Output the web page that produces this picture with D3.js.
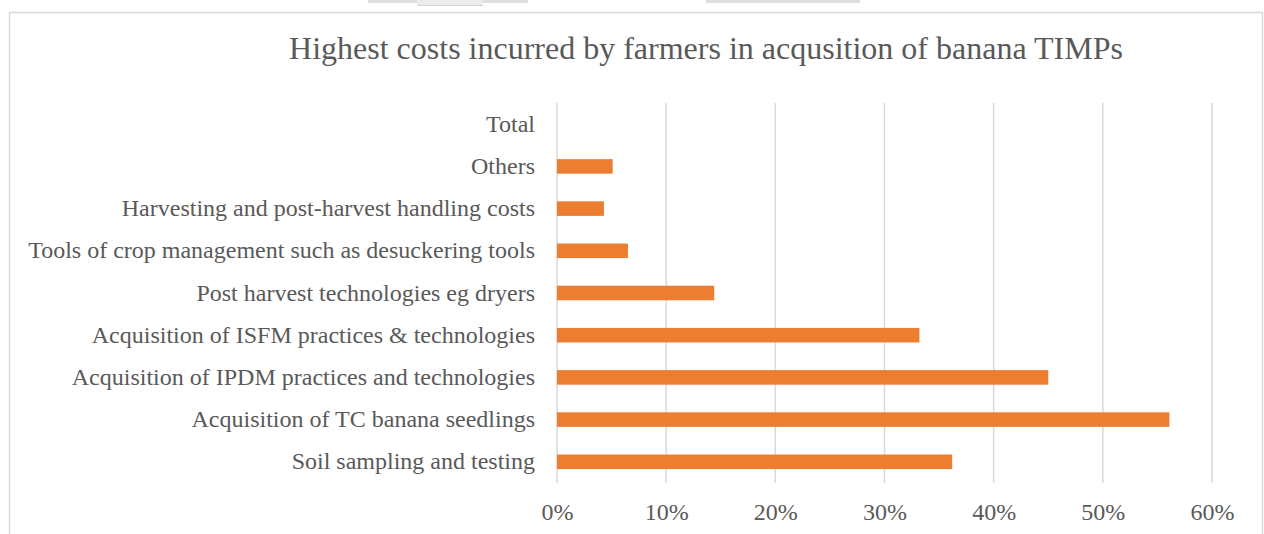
<!DOCTYPE html>
<html>
<head>
<meta charset="utf-8">
<script src="https://cdn.jsdelivr.net/npm/d3@7"></script>
<style>
  html, body { margin: 0; padding: 0; background: #fff; }
  svg { display: block; }
</style>
</head>
<body>
<svg id="chart" width="1264" height="534"></svg>
<script>
// Cost categories, listed top to bottom
const categories = [
  "Total",
  "Others",
  "Harvesting and post-harvest handling costs",
  "Tools of crop management such as desuckering tools",
  "Post harvest technologies eg dryers",
  "Acquisition of ISFM practices & technologies",
  "Acquisition of IPDM practices and technologies",
  "Acquisition of TC banana seedlings",
  "Soil sampling and testing"
];
// Share of farmers (%) for each category; Total has no bar
const shares = [null, 5.1, 4.3, 6.5, 14.4, 33.2, 45.0, 56.1, 36.2];
const tickValues = [0, 10, 20, 30, 40, 50, 60];
const titleText = "Highest costs incurred by farmers in acqusition of banana TIMPs";

const svg = d3.select("#chart");
const W = 1264, H = 534;
const font = "'Liberation Serif', 'Times New Roman', serif";
const textColor = "#595959";

// faint tab shadows along the top edge
const tabs = svg.append("g");
tabs.append("rect").attr("x", 368).attr("y", 0).attr("width", 160).attr("height", 3).attr("fill", "#dedede");
tabs.append("rect").attr("x", 417).attr("y", 0).attr("width", 66).attr("height", 6).attr("fill", "#ececec");
tabs.append("rect").attr("x", 417).attr("y", 5).attr("width", 66).attr("height", 1).attr("fill", "#d6d6d6");
tabs.append("rect").attr("x", 706).attr("y", 0).attr("width", 154).attr("height", 3).attr("fill", "#dedede");

// chart frame
svg.append("rect")
  .attr("x", 9.5).attr("y", 12.5)
  .attr("width", 1253).attr("height", 540)
  .attr("fill", "#fff").attr("stroke", "#d9d9d9").attr("stroke-width", 1.5);

const margin = { left: 557, right: 52, top: 103, bottom: 51 };
const x = d3.scaleLinear().domain([0, 60]).range([margin.left, margin.left + 655]);
const y = d3.scaleBand().domain(categories).range([margin.top, H - margin.bottom]).paddingInner(0.655).paddingOuter(0.33);

// vertical gridlines
svg.append("g").selectAll("line").data(tickValues).join("line")
  .attr("x1", d => x(d)).attr("x2", d => x(d))
  .attr("y1", margin.top).attr("y2", H - margin.bottom)
  .attr("stroke", "#d9d9d9").attr("stroke-width", 1.5);

// bars
svg.append("g").selectAll("rect").data(categories.map((c, i) => ({ c, v: shares[i] })).filter(d => d.v != null))
  .join("rect")
  .attr("x", x(0))
  .attr("y", d => y(d.c))
  .attr("width", d => x(d.v) - x(0))
  .attr("height", y.bandwidth())
  .attr("fill", "#ED7D31");

// category axis
const yAxis = d3.axisLeft(y).tickSize(0).tickPadding(22);
const gy = svg.append("g").attr("transform", `translate(${x(0)},0)`).call(yAxis);
gy.select(".domain").remove();
gy.selectAll("text").attr("font-family", font).attr("font-size", 24).attr("fill", textColor);

// value axis
const xAxis = d3.axisBottom(x).tickValues(tickValues).tickSize(0).tickPadding(20).tickFormat(d => d + "%");
const gx = svg.append("g").attr("transform", `translate(0,${H - margin.bottom})`).call(xAxis);
gx.select(".domain").remove();
gx.selectAll("text").attr("font-family", font).attr("font-size", 24).attr("fill", textColor);

// title
svg.append("text")
  .attr("x", 706).attr("y", 59)
  .attr("text-anchor", "middle")
  .attr("font-family", font).attr("font-size", 32)
  .attr("fill", textColor)
  .text(titleText);
</script>
</body>
</html>
